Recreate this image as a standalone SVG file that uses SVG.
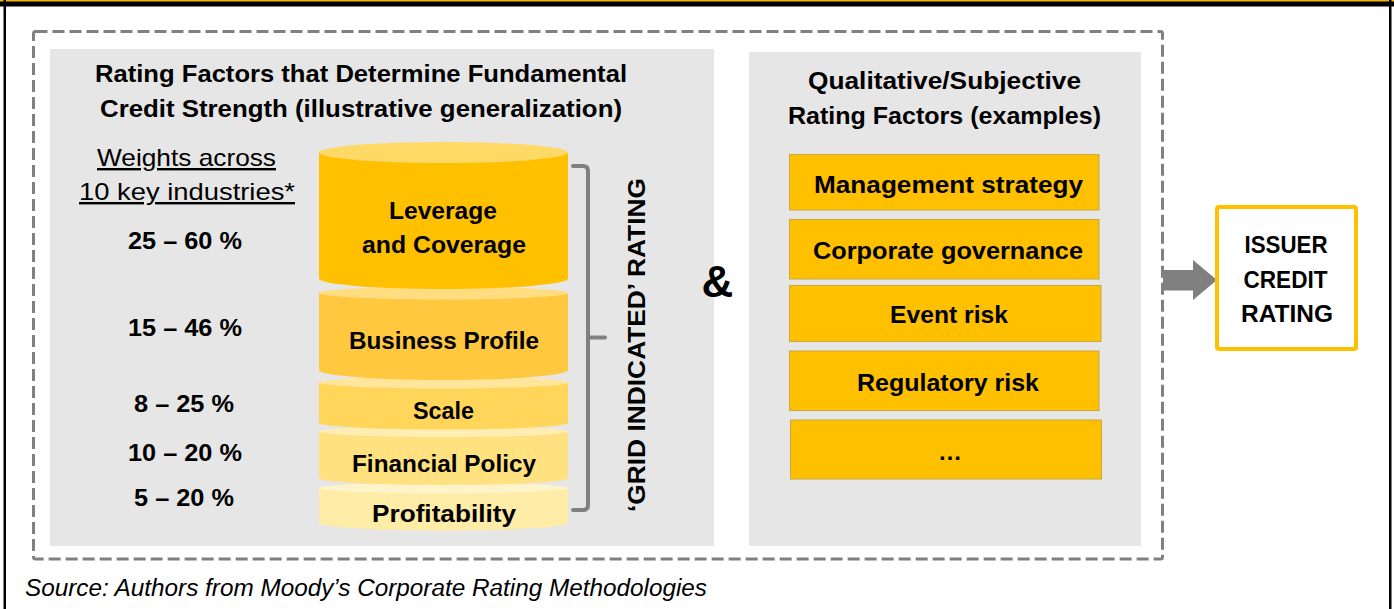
<svg xmlns="http://www.w3.org/2000/svg" width="1394" height="609" viewBox="0 0 1394 609">
<style>
text{font-family:"Liberation Sans",Arial,sans-serif;fill:#000;}
.b{font-weight:700;font-size:24px;}
.r{font-size:24px;}
.c{text-anchor:middle;}
.panel{fill:#E7E6E6;}
.box{fill:#FFC000;stroke:#C9A640;stroke-width:1;}
</style>
<rect x="0" y="0" width="1394" height="609" fill="#fff"/>
<g id="frame">
<rect x="0" y="0" width="1394" height="2" fill="#F5B400"/>
<rect x="0" y="1.5" width="1394" height="5" fill="#000"/>
<rect x="3.5" y="0" width="2.5" height="609" fill="#000"/>
<rect x="1389" y="0" width="2.5" height="609" fill="#000"/>
</g>
<rect id="dashed" x="33.5" y="31.5" width="1129" height="527.5" rx="2" fill="none" stroke="#808080" stroke-width="3" stroke-dasharray="12 5"/>
<g id="left-panel">
<rect class="panel" x="50" y="49" width="664" height="497"/>
<text class="b c" x="361" y="82" textLength="532" lengthAdjust="spacingAndGlyphs">Rating Factors that Determine Fundamental</text>
<text class="b c" x="361" y="117" textLength="522" lengthAdjust="spacingAndGlyphs">Credit Strength (illustrative generalization)</text>
</g>
<g id="weights">
<text class="r c" x="186.5" y="166" textLength="179" lengthAdjust="spacingAndGlyphs" text-decoration="underline">Weights across</text>
<text class="r c" x="187" y="200" textLength="216" lengthAdjust="spacingAndGlyphs" text-decoration="underline">10 key industries*</text>
<text class="b c" x="185" y="249" textLength="114" lengthAdjust="spacingAndGlyphs">25 – 60 %</text>
<text class="b c" x="185" y="336" textLength="114" lengthAdjust="spacingAndGlyphs">15 – 46 %</text>
<text class="b c" x="184" y="412" textLength="100" lengthAdjust="spacingAndGlyphs">8 – 25 %</text>
<text class="b c" x="185" y="461" textLength="114" lengthAdjust="spacingAndGlyphs">10 – 20 %</text>
<text class="b c" x="184" y="506" textLength="100" lengthAdjust="spacingAndGlyphs">5 – 20 %</text>
</g>
<g id="cyl-profitability">
<path d="M319,488 L319,523 A124.5,7.5 0 0 0 568,523 L568,488 Z" fill="#FFECA6"/>
<ellipse cx="443.5" cy="488" rx="124.5" ry="5.5" fill="#FFF3C9"/>
<text class="b c" x="444" y="522" textLength="144" lengthAdjust="spacingAndGlyphs">Profitability</text>
</g>
<g id="cyl-financial">
<path d="M319,431.5 L319,478 A124.5,7 0 0 0 568,478 L568,431.5 Z" fill="#FFE27F"/>
<ellipse cx="443.5" cy="431.5" rx="124.5" ry="5.5" fill="#FFEDB3"/>
<text class="b c" x="444" y="471.5" textLength="184" lengthAdjust="spacingAndGlyphs">Financial Policy</text>
</g>
<g id="cyl-scale">
<path d="M319,382.5 L319,423 A124.5,6.5 0 0 0 568,423 L568,382.5 Z" fill="#FFD55A"/>
<ellipse cx="443.5" cy="382.5" rx="124.5" ry="6" fill="#FFE69A"/>
<text class="b c" x="443.5" y="419" textLength="61" lengthAdjust="spacingAndGlyphs">Scale</text>
</g>
<g id="cyl-business">
<path d="M319,293 L319,370 A124.5,10 0 0 0 568,370 L568,293 Z" fill="#FFC83F"/>
<ellipse cx="443.5" cy="293" rx="124.5" ry="6.5" fill="#FFDD80"/>
<text class="b c" x="444" y="349" textLength="190" lengthAdjust="spacingAndGlyphs">Business Profile</text>
</g>
<g id="cyl-leverage">
<path d="M319,152.5 L319,278.5 A124.5,10.5 0 0 0 568,278.5 L568,152.5 Z" fill="#FFC000"/>
<ellipse cx="443.5" cy="152.5" rx="124.5" ry="10.5" fill="#FFD966"/>
<text class="b c" x="443" y="219" textLength="108" lengthAdjust="spacingAndGlyphs">Leverage</text>
<text class="b c" x="444" y="252.5" textLength="164" lengthAdjust="spacingAndGlyphs">and Coverage</text>
</g>
<g id="bracket">
<path d="M573,166 L583,166 Q588,166 588,171 L588,505 Q588,510 583,510 L573,510 M588,337.5 L605,337.5" fill="none" stroke="#808080" stroke-width="4" stroke-linecap="round"/>
<text class="b c" transform="translate(645,345) rotate(-90)" textLength="334" lengthAdjust="spacingAndGlyphs">‘GRID INDICATED’ RATING</text>
</g>
<text id="amp" x="717.5" y="297" text-anchor="middle" style="font-weight:700;font-size:44px">&amp;</text>
<g id="right-panel">
<rect class="panel" x="749" y="52" width="392" height="494"/>
<text class="b c" x="944.5" y="89" textLength="273" lengthAdjust="spacingAndGlyphs">Qualitative/Subjective</text>
<text class="b c" x="944.5" y="124" textLength="313" lengthAdjust="spacingAndGlyphs">Rating Factors (examples)</text>
</g>
<g id="factor-management">
<rect class="box" x="789.5" y="154.5" width="309.5" height="55.5"/>
<text class="b c" x="948.5" y="193" textLength="269" lengthAdjust="spacingAndGlyphs">Management strategy</text>
</g>
<g id="factor-governance">
<rect class="box" x="789.5" y="219.5" width="309.5" height="59.5"/>
<text class="b c" x="948" y="259" textLength="270" lengthAdjust="spacingAndGlyphs">Corporate governance</text>
</g>
<g id="factor-event">
<rect class="box" x="789.5" y="285.5" width="311.5" height="56"/>
<text class="b c" x="949" y="323" textLength="118" lengthAdjust="spacingAndGlyphs">Event risk</text>
</g>
<g id="factor-regulatory">
<rect class="box" x="789.5" y="351" width="309.5" height="59.5"/>
<text class="b c" x="948" y="390.5" textLength="182" lengthAdjust="spacingAndGlyphs">Regulatory risk</text>
</g>
<g id="factor-more">
<rect class="box" x="790.5" y="420" width="311" height="59"/>
<text class="b c" x="950" y="460">…</text>
</g>
<g id="connectors">
<path d="M1163,270 L1193,270 L1193,260 L1217,280 L1193,300 L1193,290.5 L1163,290.5 Z" fill="#808080"/>
</g>
<g id="issuer">
<rect x="1217" y="207" width="139" height="142" rx="2" fill="#fff" stroke="#FFC000" stroke-width="4"/>
<text class="b c" x="1286" y="253" textLength="83" lengthAdjust="spacingAndGlyphs">ISSUER</text>
<text class="b c" x="1285.5" y="288" textLength="84" lengthAdjust="spacingAndGlyphs">CREDIT</text>
<text class="b c" x="1287" y="322" textLength="92" lengthAdjust="spacingAndGlyphs">RATING</text>
</g>
<text id="source" x="25" y="596" style="font-style:italic;font-size:23px" textLength="682" lengthAdjust="spacingAndGlyphs">Source: Authors from Moody’s Corporate Rating Methodologies</text>
</svg>
